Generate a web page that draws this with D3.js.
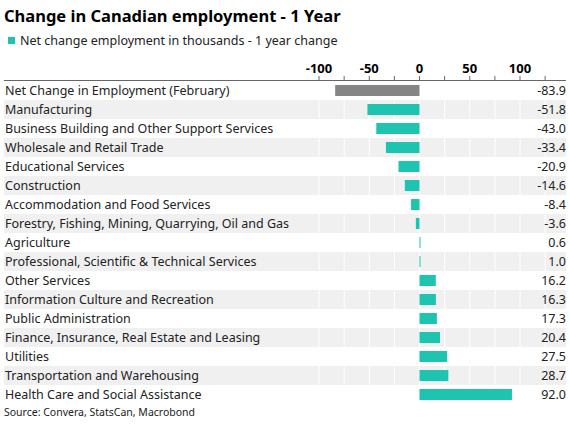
<!doctype html>
<html><head><meta charset="utf-8">
<script src="https://cdn.jsdelivr.net/npm/d3@7/dist/d3.min.js"></script>
<style>body{margin:0;background:#fff;font-family:"Noto Sans",sans-serif;}</style>
</head><body><div id="viz"></div>
<script>
var categories = ["Net Change in Employment (February)","Manufacturing","Business Building and Other Support Services","Wholesale and Retail Trade","Educational Services","Construction","Accommodation and Food Services","Forestry, Fishing, Mining, Quarrying, Oil and Gas","Agriculture","Professional, Scientific & Technical Services","Other Services","Information Culture and Recreation","Public Administration","Finance, Insurance, Real Estate and Leasing","Utilities","Transportation and Warehousing","Health Care and Social Assistance"];
var values = [-83.9,-51.8,-43.0,-33.4,-20.9,-14.6,-8.4,-3.6,0.6,1.0,16.2,16.3,17.3,20.4,27.5,28.7,92.0];
var ticks = [-100,-50,0,50,100];

var w = 570, h = 427;
var svg = d3.select("#viz").append("svg").attr("width", w).attr("height", h)
  .style("font-family", "'Noto Sans', sans-serif");

var x = d3.scaleLinear().domain([-100, 100]).range([319, 520]);
var y = d3.scaleBand().domain(categories).range([81, 404]).paddingInner(0);

svg.append("text").attr("x", 4).attr("y", 22).attr("font-size", 16.5).attr("font-weight", "bold")
  .text("Change in Canadian employment - 1 Year");
svg.append("rect").attr("x", 8).attr("y", 37).attr("width", 7).attr("height", 7).attr("fill", "#1ec4b0");
svg.append("text").attr("x", 20).attr("y", 45).attr("font-size", 12.5).attr("fill", "#222")
  .text("Net change employment in thousands - 1 year change");

// row bands
svg.selectAll("rect.band").data(categories).enter().append("rect")
  .attr("x", 4).attr("width", w - 8)
  .attr("y", function(d){ return y(d); }).attr("height", y.bandwidth())
  .attr("fill", function(d, i){ return i % 2 ? "#f0f0f0" : "#fff"; });

// grid lines
svg.selectAll("line.grid").data(d3.range(-100, 126, 25)).enter().append("line")
  .attr("x1", function(d){ return x(d); }).attr("x2", function(d){ return x(d); })
  .attr("y1", 81).attr("y2", 404).attr("stroke", "#fff").attr("stroke-width", 1);

// axis
svg.append("line").attr("x1", 4).attr("x2", 566).attr("y1", 80.5).attr("y2", 80.5).attr("stroke", "#666");
svg.selectAll("line.tick").data(d3.range(-100, 126, 25)).enter().append("line")
  .attr("x1", function(d){ return x(d); }).attr("x2", function(d){ return x(d); })
  .attr("y1", 76).attr("y2", 80).attr("stroke", "#666");
svg.selectAll("text.tick").data(ticks).enter().append("text")
  .attr("x", function(d){ return x(d); }).attr("y", 73).attr("text-anchor", "middle")
  .attr("font-size", 13).attr("font-weight", "bold").text(function(d){ return d; });

// bars
svg.selectAll("rect.bar").data(values).enter().append("rect")
  .attr("x", function(d){ return x(Math.min(0, d)); })
  .attr("width", function(d){ return Math.max(1, Math.abs(x(d) - x(0))); })
  .attr("y", function(d, i){ return y(categories[i]) + 4; })
  .attr("height", y.bandwidth() - 8)
  .attr("fill", function(d, i){ return i === 0 ? "#858585" : "#1ec4b0"; });

// labels
svg.selectAll("text.cat").data(categories).enter().append("text")
  .attr("x", 5).attr("y", function(d){ return y(d) + y.bandwidth() / 2 + 4.5; })
  .attr("font-size", 12.5).attr("fill", "#222").text(function(d){ return d; });
svg.selectAll("text.val").data(values).enter().append("text")
  .attr("x", 566).attr("y", function(d, i){ return y(categories[i]) + y.bandwidth() / 2 + 4.5; })
  .attr("text-anchor", "end").attr("font-size", 12.5).attr("fill", "#222")
  .text(function(d){ return d.toFixed(1); });

svg.append("text").attr("x", 4).attr("y", 416).attr("font-size", 10.5).attr("fill", "#222")
  .text("Source: Convera, StatsCan, Macrobond");
</script></body></html>
